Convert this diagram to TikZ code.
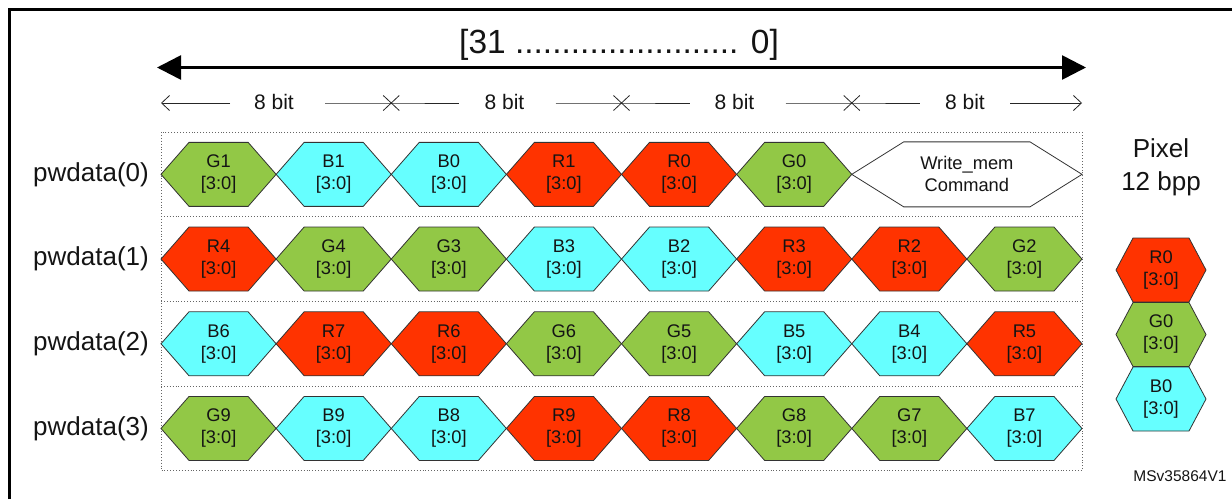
\documentclass[tikz,border=0pt]{standalone}
\usepackage{fontspec}
\setmainfont{Liberation Sans}
\usetikzlibrary{arrows.meta,calc}
\definecolor{cred}{RGB}{255,51,0}
\definecolor{cgrn}{RGB}{146,200,70}
\definecolor{ccyn}{RGB}{102,255,255}
\definecolor{txt}{RGB}{20,20,20}
\tikzset{
  hexline/.style={draw=black!80, line width=0.8pt},
  hextext/.style={inner sep=0pt, align=center, text=txt, font=\fontsize{18.3}{22}\selectfont},
  rowlabel/.style={inner sep=0pt, anchor=east, text=txt, font=\fontsize{26}{28}\selectfont},
  bitlabel/.style={inner sep=0pt, text=txt, font=\fontsize{21}{22}\selectfont},
  scaleline/.style={line width=0.8pt, draw=black!85},
  boxline/.style={dotted, line width=0.9pt, draw=black!60},
}
\newcommand{\bitsrange}{{[3:0]}}
% #1 name, #2 x left, #3 x right, #4 y centre, #5 inset, #6 half height, #7 fill, #8 text
\newcommand{\hexcell}[8]{%
  \filldraw[hexline, fill=#7] (#2,#4) -- (#2+#5,#4-#6) -- (#3-#5,#4-#6) -- (#3,#4)
     -- (#3-#5,#4+#6) -- (#2+#5,#4+#6) -- cycle;
  \node[hextext] (#1) at ({(#2+#3)/2},#4) {#8};}
\begin{document}
\begin{tikzpicture}[x=1pt,y=-1pt]
\useasboundingbox (0,0) rectangle (1232,499);
\fill[white] (0,0) rectangle (1232,499);
% frame
\draw[line width=2.6pt] (9.5,499) -- (9.5,9.5) -- (1232,9.5);
% big range arrow
\coordinate (bl) at (157,67.5);
\coordinate (br) at (1086,67.5);
\draw[line width=2.6pt, {Triangle[length=24pt,width=24pt]}-{Triangle[length=24pt,width=24pt]}] (bl) -- (br);
\node[inner sep=0pt, text=txt, font=\fontsize{33.5}{36}\selectfont] (range) at (619,45) {{[}31 ........................ 0]};
% 8 bit scale
\coordinate (s0) at (161,103);
\coordinate (s1) at (391.25,103);
\coordinate (s2) at (621.5,103);
\coordinate (s3) at (851.75,103);
\coordinate (s4) at (1082,103);
\foreach \k/\c in {1/274, 2/504.5, 3/734.5, 4/965}{
  \node[bitlabel] (b\k) at (\c,102) {8 bit};
}
\draw[scaleline, -{Straight Barb[length=8pt,width=15pt]}] ($(b1)+(-44,1)$) coordinate (t0) -- (s0);
\draw[scaleline] (b1.east) ++(31,1) coordinate (u1) -- (s1) -- ++(68,0) coordinate (v1);
\draw[scaleline] (b2.east) ++(31,1) -- (s2) -- ++(68,0);
\draw[scaleline] (b3.east) ++(31,1) -- (s3) -- ++(68,0);
\draw[scaleline, -{Straight Barb[length=8pt,width=15pt]}] (b4.east) ++(25,1) -- (s4);
\foreach \s in {s1,s2,s3}{
  \draw[scaleline] ($(\s)+(-8,-7.5)$) -- ($(\s)+(8,7.5)$);
  \draw[scaleline] ($(\s)+(-8,7.5)$) -- ($(\s)+(8,-7.5)$);
}
% dotted rows box
\draw[boxline] (161,132) rectangle (1082,470.8);
\foreach \yy in {216.7,301.4,386.1}{\draw[boxline] (161,\yy) -- (1082,\yy);}
% row labels
\foreach \r in {0,1,2,3}{
  \pgfmathsetmacro{\yc}{132+84.7*\r+42.35}
  \node[rowlabel] (pw\r) at (149,\yc) {pwdata(\r)};
}
% row 0
\foreach \lab/\col [count=\i from 0] in {G1/cgrn,B1/ccyn,B0/ccyn,R1/cred,R0/cred,G0/cgrn}{
  \pgfmathsetmacro{\xl}{161+\i*115.125}
  \pgfmathsetmacro{\xr}{\xl+115.125}
  \hexcell{h0\i}{\xl}{\xr}{174.35}{28}{32}{\col}{\lab\\\bitsrange}
}
\hexcell{wm}{851.75}{1082}{174.35}{52}{32.5}{white}{Write\_mem\\Command}
% row 1
\foreach \lab/\col [count=\i from 0] in {R4/cred,G4/cgrn,G3/cgrn,B3/ccyn,B2/ccyn,R3/cred,R2/cred,G2/cgrn}{
  \pgfmathsetmacro{\xl}{161+\i*115.125}
  \pgfmathsetmacro{\xr}{\xl+115.125}
  \hexcell{h1\i}{\xl}{\xr}{259.05}{28}{32}{\col}{\lab\\\bitsrange}
}
% row 2
\foreach \lab/\col [count=\i from 0] in {B6/ccyn,R7/cred,R6/cred,G6/cgrn,G5/cgrn,B5/ccyn,B4/ccyn,R5/cred}{
  \pgfmathsetmacro{\xl}{161+\i*115.125}
  \pgfmathsetmacro{\xr}{\xl+115.125}
  \hexcell{h2\i}{\xl}{\xr}{343.75}{28}{32}{\col}{\lab\\\bitsrange}
}
% row 3
\foreach \lab/\col [count=\i from 0] in {G9/cgrn,B9/ccyn,B8/ccyn,R9/cred,R8/cred,G8/cgrn,G7/cgrn,B7/ccyn}{
  \pgfmathsetmacro{\xl}{161+\i*115.125}
  \pgfmathsetmacro{\xr}{\xl+115.125}
  \hexcell{h3\i}{\xl}{\xr}{428.45}{28}{32}{\col}{\lab\\\bitsrange}
}
% pixel legend
\node[inner sep=0pt, align=center, text=txt, font=\fontsize{26}{33}\selectfont] (pix) at (1161,167) {Pixel\\12 bpp};
\hexcell{pr}{1116}{1206}{270}{17}{32}{cred}{R0\\\bitsrange}
\hexcell{pg}{1116}{1206}{334.5}{17}{32}{cgrn}{G0\\\bitsrange}
\hexcell{pb}{1116}{1206}{399}{17}{32}{ccyn}{B0\\\bitsrange}
\node[inner sep=0pt, text=txt, font=\fontsize{15.5}{18}\selectfont] (id) at (1180,476) {MSv35864V1};
\end{tikzpicture}
\end{document}
